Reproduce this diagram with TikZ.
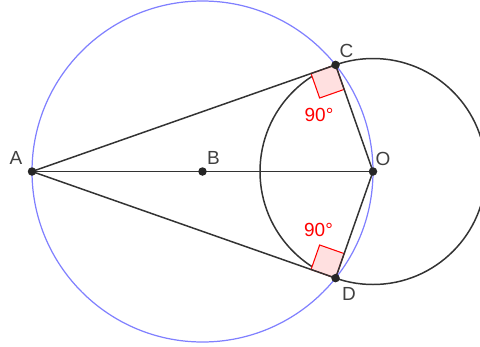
\documentclass[tikz,border=0pt]{standalone}
\usepackage{fontspec}
\setmainfont{Liberation Sans}
\usepackage{xcolor}
\usetikzlibrary{calc}
\definecolor{geoblue}{RGB}{128,128,255}
\definecolor{geored}{RGB}{255,0,0}
\definecolor{labelgray}{RGB}{64,64,64}

\begin{document}
\begin{tikzpicture}[
    x=0.02cm, y=0.02cm,
    line/.style={draw=black!80, line width=0.85pt},
    dot/.style={circle, fill=black!85, inner sep=0pt, minimum size=0.17cm},
    ptlabel/.style={text=labelgray, font=\fontsize{10.8}{13}\selectfont},
    anglabel/.style={text=geored, font=\fontsize{10.8}{13}\selectfont},
    rightmark/.style={draw=geored, fill=geored!12, line width=0.6pt}
]
\useasboundingbox (0,0) rectangle (480,346);
\clip (0,0) rectangle (480,346);
\coordinate (A) at (32,174.5);
\coordinate (B) at (202.5,174.5);
\coordinate (O) at (373,174.5);
\coordinate (C) at ($(O)+(109.35:113)$);
\coordinate (D) at ($(O)+(-109.35:113)$);
% circles
\draw [geoblue, line width=0.7pt] (B) circle [radius=170.5];
\draw [line] (O) circle [radius=113];
% right angle marks
\coordinate (Ca) at ($(C)!0.52cm!(A)$);
\coordinate (Co) at ($(C)!0.52cm!(O)$);
\coordinate (Da) at ($(D)!0.52cm!(A)$);
\coordinate (Do) at ($(D)!0.52cm!(O)$);
\draw [rightmark] (C) -- (Ca) -- ($(Ca)+(Co)-(C)$) -- (Co) -- cycle;
\draw [rightmark] (D) -- (Da) -- ($(Da)+(Do)-(D)$) -- (Do) -- cycle;
% segments
\draw [line] (A) -- (O);
\draw [line] (A) -- (C) -- (O) -- (D) -- (A);
% points
\node (ptA) [dot] at (A) {};
\node (ptB) [dot] at (B) {};
\node (ptO) [dot] at (O) {};
\node (ptC) [dot] at (C) {};
\node (ptD) [dot] at (D) {};
% labels
\node [ptlabel] at (16,188) {A};
\node [ptlabel] at (213.5,188.5) {B};
\node [ptlabel] at (346.5,295.5) {C};
\node [ptlabel] at (383,187.5) {O};
\node [ptlabel] at (349,52.5) {D};
\node [anglabel] at (319,231.5) {90°};
\node [anglabel] at (318.5,116.5) {90°};
\end{tikzpicture}
\end{document}
